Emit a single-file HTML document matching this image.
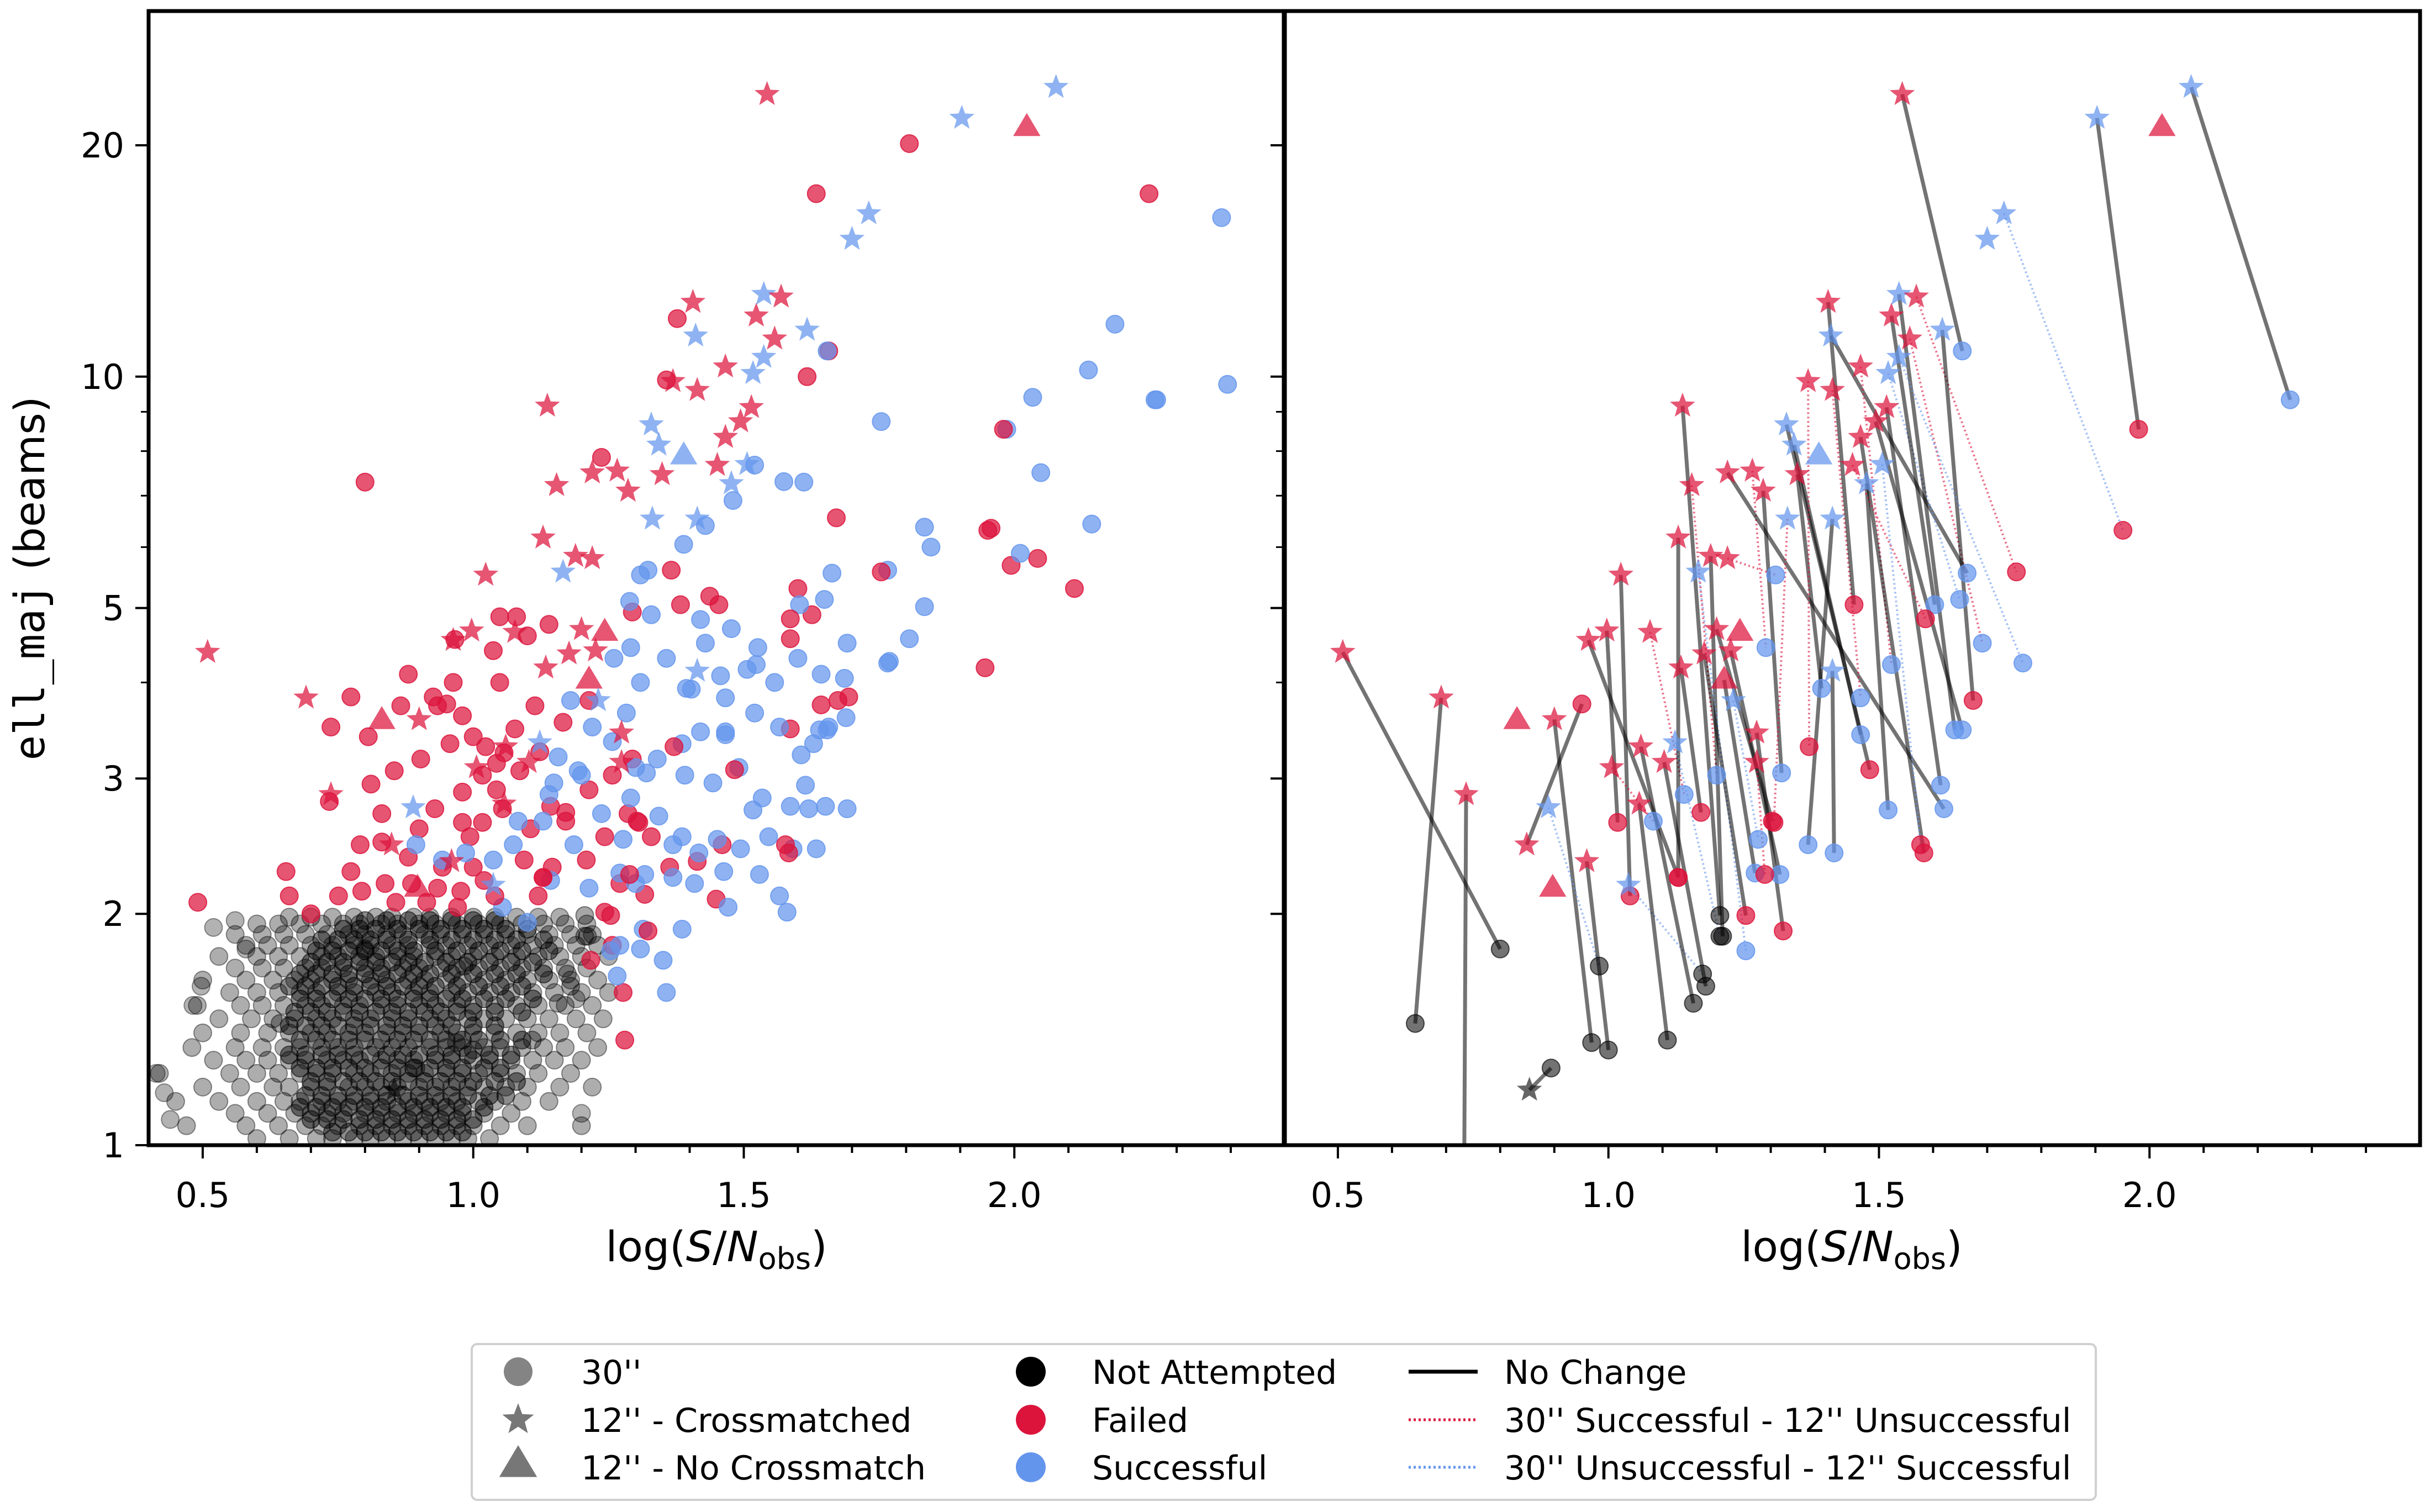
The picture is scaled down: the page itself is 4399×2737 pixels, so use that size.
<!DOCTYPE html>
<html><head><meta charset="utf-8">
<style>
html,body{margin:0;padding:0;background:#fff;}
svg{display:block;font-family:"DejaVu Sans","Liberation Sans",sans-serif;}
</style></head>
<body>
<svg id="fig" xmlns="http://www.w3.org/2000/svg" width="4399" height="2737" viewBox="0 0 4399 2737">
<rect width="4399" height="2737" fill="#fff"/>
<defs>
<clipPath id="clipL"><rect x="269" y="20" width="2057" height="2053"/></clipPath>
<clipPath id="clipR"><rect x="2324" y="20" width="2057" height="2053"/></clipPath>
</defs>
<g id="left"></g>
<g id="right"></g>
<g id="axes"></g>
<text transform="translate(80,1047) rotate(-90)" text-anchor="middle" font-size="76" fill="#000"><tspan font-family="'DejaVu Sans Mono','Liberation Mono',monospace">ell_maj</tspan> (beams)</text>
<text x="1297" y="2283" text-anchor="middle" font-size="76">log(<tspan font-style="italic">S</tspan>/<tspan font-style="italic">N</tspan><tspan font-size="54" dy="14">obs</tspan><tspan dy="-14">)</tspan></text>
<text x="3352" y="2283" text-anchor="middle" font-size="76">log(<tspan font-style="italic">S</tspan>/<tspan font-style="italic">N</tspan><tspan font-size="54" dy="14">obs</tspan><tspan dy="-14">)</tspan></text>
<g id="legend">
<rect x="854" y="2433" width="2940" height="282" rx="10" fill="#fff" stroke="#d0d0d0" stroke-width="4"/>
</g>
</svg>
<script>
// ---------- data ----------
const p12x=[0.509,0.691,0.737,0.849,0.900,0.889,0.960,0.963,0.997,1.023,1.006,1.037,1.060,1.103,1.057,1.077,1.123,1.134,1.137,1.129,1.154,1.189,1.220,1.166,1.177,1.226,1.200,1.243,1.214,1.231,1.274,1.274,1.266,1.286,1.220,1.331,1.414,1.414,1.349,1.329,1.343,1.389,1.369,1.414,1.406,1.411,1.466,1.517,1.514,1.494,1.466,1.477,1.523,1.537,1.569,1.557,1.617,1.543,1.903,2.077,1.731,1.700,2.023,0.831,0.897,0.854,1.537,1.451,1.506];
const p12y=[4.38,3.82,2.86,2.46,3.58,2.75,2.34,4.54,4.67,5.52,3.10,2.18,3.30,3.15,2.78,4.65,3.34,4.18,9.16,6.17,7.22,5.84,5.80,5.57,4.36,4.40,4.69,4.65,4.03,3.79,3.44,3.15,7.54,7.10,7.50,6.53,6.53,4.14,7.46,8.66,8.15,7.89,9.86,9.60,12.5,11.3,10.3,10.1,9.12,8.74,8.34,7.26,12.0,12.8,12.7,11.2,11.5,23.3,21.7,23.8,16.3,15.1,21.1,3.57,2.16,1.18,10.6,7.67,7.69];
const p12m="sssssssssssssssssssssssssssttsssssssssssstsssssssssssssssssssstttsssss".split("");
const p12c="rrrrrbrrrrrbrrrrbrrrrrrbrrrrrbrrrrrbbbrbbbrrrbrbrrrbrbrrbrbbbbrrrkbrb".split("");
const p30x=[0.800,0.643,0.733,0.951,0.969,0.983,1.000,1.129,1.017,1.040,1.083,1.174,1.157,1.180,1.109,1.140,1.206,1.171,1.206,1.129,1.200,1.211,1.309,1.254,1.254,1.317,1.303,null,1.271,1.277,1.323,1.289,1.291,1.320,1.620,1.306,1.369,1.417,1.394,1.483,1.466,null,1.371,1.466,1.454,1.663,1.523,1.649,1.614,1.654,1.583,1.517,1.603,1.640,1.754,1.691,1.674,1.654,1.980,2.260,1.951,null,null,null,null,0.894,1.766,1.586,1.577];
const p30y=[1.80,1.44,0.80,3.75,1.36,1.71,1.33,2.23,2.63,2.11,2.64,1.67,1.53,1.61,1.37,2.86,1.87,2.71,1.99,2.23,3.03,1.87,5.52,1.79,1.99,2.25,2.64,null,2.26,2.50,1.90,2.25,4.44,3.05,2.74,2.63,2.46,2.40,3.93,3.08,3.42,null,3.30,3.82,5.05,5.55,4.22,5.13,2.94,3.47,2.40,2.73,5.05,3.47,5.57,4.50,3.79,10.8,8.54,9.33,6.31,null,null,null,null,1.26,4.24,4.84,2.46];
const p30c="kkkrkkkrrrbkkkkbkrkrbkbbrbr-bbrrbbbrbbbrb-rbrbbbbbrbbbrbrbrbr----kbrr".split("");
const plink="kkkkkbkkkkrbkkkrbkkkrkrbkkk-kbkrrkkrkkkkk-rrkkrbkkkkkkrrkkkkb----kbrb".split("");

const redX=[1.806,1.634,2.249,0.800,0.491,1.957,1.994,2.043,2.111,1.946,1.671,1.657,1.617,1.377,1.237,1.357,1.280,1.277,1.586,1.626,1.586,1.643,1.694,1.600,1.366,1.437,1.383,1.294,1.140,1.080,1.049,1.100,0.966,1.037,0.880,0.774,0.737,0.806,0.866,0.926,0.980,1.049,1.114,1.166,1.214,1.000,1.077,0.957,0.903,0.854,0.811,0.734,1.023,1.043,1.086,1.123,1.017,0.980,0.929,0.831,0.791,0.831,0.880,0.943,0.994,1.054,1.106,1.171,1.214,1.257,1.286,1.294,1.329,1.363,1.414,1.460,1.449,1.317,1.271,1.243,1.209,1.146,1.094,1.020,0.977,0.934,0.886,0.837,0.794,0.751,0.700,0.660,0.654,0.774,0.857,0.914,0.971,1.000,1.120,1.257,1.217,1.243,1.143,1.043,0.980,0.900,0.934,1.057,0.963];
const redY=[20.1,17.3,17.3,7.29,2.07,6.35,5.68,5.80,5.30,4.18,6.55,10.8,10.0,11.9,7.85,9.9,1.37,1.58,4.56,4.90,3.48,3.74,3.83,5.30,5.60,5.18,5.05,4.94,4.76,4.87,4.87,4.60,4.55,4.40,4.10,3.83,3.50,3.40,3.73,3.83,3.62,4.00,3.73,3.55,3.79,3.40,3.48,3.33,3.18,3.07,2.95,2.80,3.30,3.14,3.07,3.25,3.03,2.88,2.74,2.70,2.46,2.48,2.37,2.30,2.52,2.74,2.58,2.64,2.90,3.03,2.70,3.18,2.52,2.30,2.34,2.46,2.09,2.12,2.19,2.01,2.35,2.30,2.35,2.21,2.14,2.16,2.19,2.19,2.14,2.11,2.00,2.11,2.27,2.27,2.07,2.07,2.04,2.30,2.11,1.82,1.74,2.52,2.76,2.90,2.63,2.58,3.73,3.24,4.00];
const blueX=[2.383,2.394,2.263,2.186,2.137,2.034,1.986,2.049,2.143,2.011,1.834,1.846,1.766,1.834,1.754,1.520,1.574,1.611,1.769,1.806,1.480,1.429,1.389,1.323,1.289,1.329,1.420,1.477,1.526,1.429,1.357,1.309,1.260,1.283,1.220,1.180,1.403,1.457,1.506,1.557,1.600,1.643,1.629,1.606,1.686,1.689,1.657,1.566,1.520,1.466,1.420,1.386,1.340,1.300,1.257,1.194,1.157,1.149,1.391,1.443,1.491,1.534,1.586,1.651,1.691,1.546,1.591,1.634,1.494,1.451,1.386,1.343,1.291,1.237,1.186,1.129,1.074,1.037,0.986,0.943,0.894,1.143,1.214,1.300,1.369,1.409,1.463,1.529,1.566,1.580,1.471,1.386,1.314,1.271,1.266,1.357,1.309,1.351,1.054,1.100];
const blueY=[16.1,9.77,9.33,11.7,10.2,9.4,8.54,7.5,6.43,5.89,6.37,6.0,5.6,5.02,8.74,7.67,7.3,7.29,4.26,4.56,6.9,6.4,6.05,5.6,5.1,4.9,4.83,4.7,4.44,4.5,4.3,4.0,4.3,3.65,3.5,3.79,3.92,4.08,4.16,4.0,4.3,4.1,3.33,3.22,4.05,3.6,3.5,3.5,3.65,3.45,3.45,3.33,3.18,3.1,3.35,3.07,3.2,2.96,3.03,2.96,3.1,2.83,2.76,2.76,2.74,2.52,2.43,2.43,2.43,2.5,2.52,2.68,2.83,2.7,2.46,2.64,2.46,2.35,2.4,2.35,2.46,2.21,2.16,2.19,2.23,2.19,2.27,2.25,2.11,2.01,2.04,1.91,1.91,1.82,1.66,1.58,1.8,1.74,2.04,1.95];

const blackRowY=[1.02,1.06,1.10,1.14,1.19,1.24,1.29,1.34,1.40,1.46,1.52,1.58,1.64,1.70,1.76,1.82,1.88,1.94,1.98];
const blackRowX=[
[0.60,0.66,0.71,0.74,0.78,0.81,0.84,0.87,0.90,0.93,0.96,0.99,1.03],
[0.47,0.58,0.64,0.69,0.72,0.75,0.79,0.82,0.85,0.88,0.91,0.94,0.97,1.00,1.05,1.10,1.20],
[0.56,0.62,0.67,0.70,0.73,0.76,0.80,0.83,0.86,0.89,0.92,0.95,0.98,1.02,1.07],
[0.45,0.53,0.60,0.65,0.68,0.72,0.75,0.78,0.81,0.84,0.88,0.91,0.94,0.97,1.01,1.04,1.09,1.14],
[0.50,0.57,0.63,0.66,0.70,0.73,0.77,0.80,0.83,0.86,0.90,0.93,0.96,0.99,1.02,1.06,1.10,1.16,1.22],
[0.42,0.55,0.60,0.64,0.68,0.71,0.74,0.78,0.81,0.85,0.88,0.91,0.95,0.98,1.01,1.05,1.08,1.12,1.18],
[0.52,0.58,0.62,0.66,0.69,0.73,0.76,0.79,0.83,0.86,0.89,0.93,0.96,1.00,1.03,1.07,1.11,1.15,1.20],
[0.48,0.56,0.61,0.65,0.68,0.72,0.75,0.78,0.82,0.85,0.88,0.92,0.95,0.98,1.02,1.05,1.09,1.13,1.17,1.23],
[0.50,0.57,0.62,0.66,0.70,0.73,0.77,0.80,0.84,0.87,0.90,0.94,0.97,1.00,1.04,1.08,1.12,1.16,1.21],
[0.53,0.59,0.63,0.67,0.71,0.74,0.78,0.81,0.85,0.88,0.92,0.95,0.99,1.02,1.06,1.10,1.14,1.19,1.24],
[0.49,0.57,0.61,0.65,0.69,0.72,0.76,0.79,0.83,0.86,0.90,0.93,0.97,1.00,1.04,1.08,1.12,1.17,1.22],
[0.55,0.60,0.64,0.68,0.71,0.75,0.78,0.82,0.85,0.89,0.92,0.96,0.99,1.03,1.07,1.11,1.15,1.20,1.25],
[0.50,0.58,0.63,0.67,0.70,0.74,0.77,0.81,0.84,0.88,0.91,0.95,0.98,1.02,1.06,1.10,1.14,1.18,1.23],
[0.56,0.61,0.65,0.69,0.72,0.76,0.80,0.83,0.87,0.90,0.94,0.97,1.01,1.05,1.09,1.13,1.17,1.21],
[0.53,0.60,0.64,0.68,0.72,0.75,0.79,0.82,0.86,0.89,0.93,0.96,1.00,1.04,1.08,1.12,1.16,1.20,1.25],
[0.58,0.62,0.66,0.70,0.74,0.78,0.81,0.85,0.88,0.92,0.95,0.99,1.03,1.07,1.11,1.15,1.19,1.23],
[0.56,0.61,0.65,0.69,0.73,0.77,0.80,0.84,0.87,0.91,0.94,0.98,1.02,1.06,1.10,1.14,1.18,1.22],
[0.60,0.64,0.68,0.72,0.76,0.79,0.83,0.86,0.90,0.93,0.97,1.01,1.05,1.09,1.13,1.17,1.21],
[0.66,0.70,0.74,0.78,0.82,0.85,0.89,0.92,0.96,1.00,1.04,1.08,1.12,1.16]];
// dense core of the not-attempted cloud, ragged per row
const blackCoreY=[1.04,1.08,1.12,1.16,1.21,1.26,1.31,1.37,1.43,1.49,1.55,1.61,1.67,1.73,1.79,1.85,1.91,1.96];
const blackCoreX=[
[0.74,0.77,0.80,0.83,0.86,0.89,0.92,0.95,0.98],
[0.70,0.73,0.76,0.79,0.82,0.85,0.88,0.91,0.94,0.97,1.00],
[0.68,0.71,0.74,0.77,0.80,0.83,0.86,0.89,0.92,0.95,0.98,1.02],
[0.69,0.72,0.75,0.78,0.81,0.84,0.87,0.90,0.93,0.96,0.99,1.03,1.06],
[0.70,0.73,0.76,0.79,0.82,0.85,0.88,0.91,0.94,0.97,1.00,1.04,1.08],
[0.68,0.71,0.74,0.77,0.80,0.83,0.86,0.89,0.92,0.95,0.98,1.02,1.05],
[0.66,0.69,0.72,0.75,0.78,0.81,0.84,0.87,0.90,0.93,0.96,0.99,1.03,1.07],
[0.68,0.71,0.74,0.77,0.80,0.83,0.86,0.89,0.92,0.95,0.98,1.01,1.05,1.09],
[0.66,0.69,0.72,0.75,0.78,0.81,0.84,0.87,0.90,0.93,0.96,1.00,1.04],
[0.67,0.70,0.73,0.76,0.79,0.82,0.85,0.88,0.91,0.94,0.97,1.00,1.04,1.09],
[0.68,0.71,0.74,0.77,0.80,0.83,0.86,0.89,0.92,0.95,0.98,1.02,1.06,1.11],
[0.66,0.69,0.72,0.75,0.78,0.81,0.84,0.87,0.90,0.93,0.97,1.01,1.05,1.09],
[0.68,0.71,0.74,0.77,0.80,0.83,0.86,0.89,0.92,0.96,1.00,1.04,1.08,1.13],
[0.70,0.73,0.76,0.79,0.82,0.85,0.88,0.91,0.95,0.99,1.03,1.07,1.11],
[0.71,0.74,0.77,0.80,0.83,0.86,0.89,0.93,0.97,1.01,1.05,1.09,1.14],
[0.72,0.75,0.78,0.81,0.84,0.88,0.92,0.96,1.00,1.04,1.08,1.13],
[0.76,0.79,0.82,0.86,0.90,0.94,0.98,1.02,1.06,1.10],
[0.80,0.84,0.88,0.92,0.96,1.00,1.04]];
const blackOutX=[0.414,0.429,0.497,0.482,0.520,0.560,1.200,1.190,0.440,0.580];
const blackOutY=[1.24,1.17,1.61,1.52,1.92,1.96,1.10,1.55,1.08,1.80];

const xTicks=[0.5,1.0,1.5,2.0];
const xTickLabels=["0.5","1.0","1.5","2.0"];
const yTicks=[1,2,3,5,10,20];
const yTickLabels=["1","2","3","5","10","20"];
const yMinor=[4,6,7,8,9,30];

// ---------- scales ----------
const XMIN=0.4,XMAX=2.5,YMIN=1,YMAX=29.9,TOP=20,BOT=2073,W=2057;
const PL=[269,2324];
function sx(p,v){return PL[p]+(v-XMIN)/(XMAX-XMIN)*W;}
function sy(v){return BOT-(Math.log10(v)-Math.log10(YMIN))/(Math.log10(YMAX)-Math.log10(YMIN))*(BOT-TOP);}
const NS="http://www.w3.org/2000/svg";
const COL={r:"#dc143c",b:"#6495ed",k:"#000"};
function mk(tag,attrs,parent){const e=document.createElementNS(NS,tag);for(const k in attrs)e.setAttribute(k,attrs[k]);parent.appendChild(e);return e;}
function starPts(cx,cy,R){let s=[];for(let i=0;i<10;i++){const r=i%2?R*0.42:R;const a=-Math.PI/2+i*Math.PI/5;s.push((cx+r*Math.cos(a)).toFixed(1)+","+(cy+r*Math.sin(a)).toFixed(1));}return s.join(" ");}
function triPts(cx,cy,R){return [[cx,cy-R],[cx+R*0.95,cy+R*0.6],[cx-R*0.95,cy+R*0.6]].map(p=>p[0].toFixed(1)+","+p[1].toFixed(1)).join(" ");}

const left=document.getElementById('left');
const right=document.getElementById('right');
const gL=mk('g',{'clip-path':'url(#clipL)'},left);
const gR=mk('g',{'clip-path':'url(#clipR)'},right);

function circle(g,x,y,c,alpha,name){
  const e=mk('circle',{cx:x.toFixed(1),cy:y.toFixed(1),r:16,fill:COL[c],'fill-opacity':alpha,stroke:COL[c],'stroke-opacity':Math.min(1,alpha+0.1),'stroke-width':2},g);
  
  
  return e;
}
function marker12(g,x,y,m,c,name){
  let e;
  if(m==='s') e=mk('polygon',{points:starPts(x,y,24)},g);
  else e=mk('polygon',{points:triPts(x,y,26)},g);
  e.setAttribute('fill',COL[c]);e.setAttribute('fill-opacity',c==='k'?0.6:0.72);
  
  
}

// ---- left panel ----
for(let i=0;i<blackRowY.length;i++){for(const x of blackRowX[i]){circle(gL,sx(0,x),sy(blackRowY[i]),'k',0.32,'not-attempted-point');}}
for(let i=0;i<blackCoreY.length;i++){for(const x of blackCoreX[i]){circle(gL,sx(0,x),sy(blackCoreY[i]),'k',0.45,'not-attempted-point');}}
for(let i=0;i<blackOutX.length;i++) circle(gL,sx(0,blackOutX[i]),sy(blackOutY[i]),'k',0.3,'not-attempted-point');
for(let i=0;i<p30x.length;i++){ if(p30x[i]!==null && p30c[i]==='k') circle(gL,sx(0,p30x[i]),sy(p30y[i]),'k',0.35,'not-attempted-point'); }
for(let i=0;i<redX.length;i++) circle(gL,sx(0,redX[i]),sy(redY[i]),'r',0.72,'failed-30-point');
for(let i=0;i<blueX.length;i++) circle(gL,sx(0,blueX[i]),sy(blueY[i]),'b',0.72,'successful-30-point');
for(let i=0;i<p30x.length;i++){ if(p30x[i]!==null && p30c[i]!=='k') circle(gL,sx(0,p30x[i]),sy(p30y[i]),p30c[i],0.72,'paired-30-point'); }
for(let i=0;i<p12x.length;i++) marker12(gL,sx(0,p12x[i]),sy(p12y[i]),p12m[i],p12c[i],'source-12-marker');

// ---- right panel ----
for(let i=0;i<p12x.length;i++){
  if(p30x[i]===null) continue;
  const t=plink[i];
  const l=mk('line',{x1:sx(1,p12x[i]).toFixed(1),y1:sy(p12y[i]).toFixed(1),x2:sx(1,p30x[i]).toFixed(1),y2:sy(p30y[i]).toFixed(1)},gR);
  if(t==='k'){l.setAttribute('stroke','#000');l.setAttribute('stroke-opacity','0.55');l.setAttribute('stroke-width','7');}
  else{l.setAttribute('stroke',COL[t]);l.setAttribute('stroke-opacity','0.6');l.setAttribute('stroke-width','4');l.setAttribute('stroke-dasharray','3 5');}
  
  
}
for(let i=0;i<p30x.length;i++){ if(p30x[i]!==null) circle(gR,sx(1,p30x[i]),sy(p30y[i]),p30c[i],p30c[i]==='k'?0.55:0.72,'paired-30-point'); }
for(let i=0;i<p12x.length;i++) marker12(gR,sx(1,p12x[i]),sy(p12y[i]),p12m[i],p12c[i],'source-12-marker');

// ---- axes ----
const ax=document.getElementById('axes');
for(let p=0;p<2;p++){
  const fr=mk('rect',{x:PL[p],y:TOP,width:W,height:BOT-TOP,fill:'none',stroke:'#000','stroke-width':7},ax);
  
  
  for(let v=0.5;v<=2.45;v+=0.1){
    const maj=Math.abs(v*2-Math.round(v*2))<1e-6;
    const x=sx(p,v);
    const t=mk('line',{x1:x,y1:BOT,x2:x,y2:BOT+(maj?24:14),stroke:'#000','stroke-width':4},ax);
    
    
  }
  xTicks.forEach((v,i)=>{
    const t=mk('text',{x:sx(p,v),y:2185,'text-anchor':'middle','font-size':62},ax);
    t.textContent=xTickLabels[i];
    
    
  });
  yTicks.forEach((v,i)=>{
    const y=sy(v);
    const t=mk('line',{x1:PL[p]-24,y1:y,x2:PL[p],y2:y,stroke:'#000','stroke-width':4},ax);
    
    
    if(p===0){
      const l=mk('text',{x:PL[p]-44,y:y+22,'text-anchor':'end','font-size':62},ax);
      l.textContent=yTickLabels[i];
      
      
    }
  });
  yMinor.forEach(v=>{
    if(v>YMAX) return;
    const y=sy(v);
    const t=mk('line',{x1:PL[p]-14,y1:y,x2:PL[p],y2:y,stroke:'#000','stroke-width':3},ax);
    
    
  });
}

// ---- legend ----
const lg=document.getElementById('legend');
const rows=[2483,2570,2656];
const legText=[["30''","12'' - Crossmatched","12'' - No Crossmatch"],["Not Attempted","Failed","Successful"],["No Change","30'' Successful - 12'' Unsuccessful","30'' Unsuccessful - 12'' Successful"]];
const legTx=[1052,1977,2723];
let e=mk('circle',{cx:938,cy:rows[0],r:26,fill:'#777','fill-opacity':0.9},lg);


e=mk('polygon',{points:starPts(938,rows[1],30),fill:'#777'},lg);


e=mk('polygon',{points:triPts(938,rows[2]-4,36),fill:'#777'},lg);


['#000','#dc143c','#6495ed'].forEach((c,i)=>{
  const m=mk('circle',{cx:1866,cy:rows[i],r:27,fill:c},lg);
  
  
});
e=mk('line',{x1:2550,y1:rows[0],x2:2675,y2:rows[0],stroke:'#000','stroke-width':7},lg);


e=mk('line',{x1:2550,y1:rows[1],x2:2675,y2:rows[1],stroke:'#dc143c','stroke-width':5,'stroke-dasharray':'4 5'},lg);


e=mk('line',{x1:2550,y1:rows[2],x2:2675,y2:rows[2],stroke:'#6495ed','stroke-width':5,'stroke-dasharray':'4 5'},lg);


for(let c=0;c<3;c++)for(let r=0;r<3;r++){
  const t=mk('text',{x:legTx[c],y:rows[r]+22,'font-size':60},lg);
  t.textContent=legText[c][r];
  
  
}
</script>
</body></html>
